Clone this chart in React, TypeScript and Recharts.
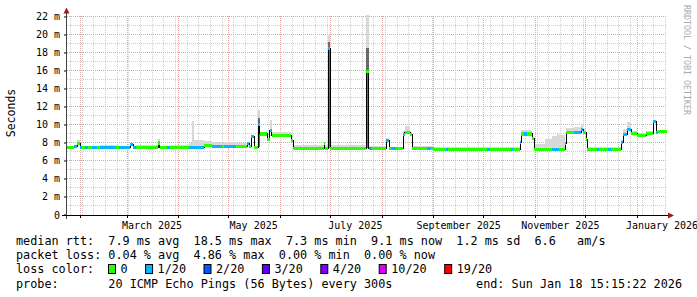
import React from "react";
import { ComposedChart, Area, Line, XAxis, YAxis, ReferenceLine } from "recharts";

const START = Date.UTC(2025, 0, 24);
const SPAN_DAYS = 360;
const dayOf = (s: string) => (Date.parse(s + "T00:00:00Z") - START) / 864e5;

// median rtt (start in days since 24 Jan 2025)
const segStart = [
  0, 4.2, 6.0, 7.8, 9.0, 10.8, 12.6, 15.0, 18.0, 19.8, 29.4, 31.2, 37.8, 39.6, 41.4,
  54.6, 55.5, 60.0, 61.8, 73.2, 75.0, 76.2, 82.2, 87.0, 93.0, 94.2, 101.4, 108.0,
  109.2, 110.4, 112.2, 114.6, 115.5, 120.0, 121.5, 122.7, 134.4, 135.6, 154.2, 154.7,
  156.6, 157.8, 179.4, 180.9, 183.0, 191.4, 193.2, 194.4, 197.4, 201.6, 202.5, 205.8,
  207.0, 216.0, 218.4, 220.2, 227.4, 228.6, 252.0, 253.8, 266.4, 267.6, 271.8, 272.4,
  274.2, 275.7, 279.0, 280.2, 286.8, 291.0, 294.0, 295.2, 298.8, 299.4, 304.2, 308.4,
  309.6, 311.4, 312.0, 318.0, 319.2, 324.6, 326.4, 332.4, 333.6, 336.0, 338.4, 342.0,
  347.4, 351.6, 353.4, 354.6,
];
const segMedian = [
  7.5, 7.6, 7.9, 7.5, 7.5, 7.5, 7.5, 7.5, 7.5, 7.5, 7.5, 7.5, 7.8, 7.5, 7.5,
  8.0, 7.5, 7.5, 7.5, 7.5, 7.5, 7.5, 7.7, 7.6, 7.6, 7.6, 7.6, 7.9,
  7.6, 8.7, 7.5, 10.1, 9.0, 8.4, 9.4, 8.85, 8.3, 7.4, 7.9, 7.4,
  18.5, 7.4, 15.9, 7.4, 7.4, 8.3, 7.4, 7.4, 7.4, 8.9, 9.2, 8.95,
  7.4, 7.4, 7.4, 7.3, 7.3, 7.3, 7.3, 7.3, 7.3, 7.3, 8.1, 9.0,
  9.0, 9.0, 8.5, 7.3, 7.3, 7.3, 7.3, 7.3, 7.9, 9.15, 9.15, 9.5,
  9.2, 8.4, 7.3, 7.3, 7.3, 7.3, 7.3, 8.1, 8.95, 9.5, 9.1, 8.85,
  9.1, 10.4, 9.2, 9.25,
];
// packet loss bin per segment: 0 = 0/20, 1 = 1/20
const segLoss = [
  0, 1, 0, 1, 0, 1, 0, 1, 0, 1, 0, 1, 1, 1, 0,
  0, 0, 1, 0, 1, 1, 1, 0, 1, 0, 1, 0, 1,
  0, 1, 0, 1, 0, 0, 1, 0, 0, 0, 0, 0,
  1, 0, 0, 1, 0, 1, 0, 1, 0, 1, 0, 0,
  0, 1, 0, 0, 1, 0, 1, 0, 1, 0, 1, 0,
  1, 0, 0, 0, 0, 1, 1, 0, 1, 0, 1, 1,
  0, 0, 0, 1, 0, 1, 0, 1, 1, 1, 0, 0,
  0, 1, 1, 0,
];
// top of the smoke (slowest pings) per segment
const segSmoke = [
  7.7, 7.8, 8.3, 7.7, 7.7, 7.7, 7.7, 7.7, 7.7, 7.8, 7.8, 7.7, 8.0, 7.7, 7.8,
  8.4, 7.7, 7.7, 7.8, 8.0, 10.4, 8.3, 8.2, 8.1, 8.0, 8.1, 8.0, 8.0,
  7.8, 8.9, 7.7, 11.7, 9.2, 8.6, 10.5, 9.2, 8.5, 7.75, 8.0, 7.75,
  20.0, 7.8, 22.2, 7.7, 7.7, 8.5, 7.6, 7.6, 7.6, 9.3, 9.9, 9.2,
  7.7, 7.7, 7.7, 7.6, 7.6, 7.5, 7.5, 7.5, 7.5, 7.5, 8.3, 9.45,
  9.45, 9.4, 8.7, 7.9, 8.4, 8.8, 9.0, 8.9, 8.1, 9.7, 9.8, 10.1,
  9.6, 8.6, 7.5, 7.5, 7.5, 7.5, 7.5, 8.3, 9.6, 10.3, 9.3, 9.1,
  9.3, 10.6, 9.35, 9.35,
];
// dense smoke around the three spikes
const spikeSeg = [31, 40, 42];
const spikeCoreBase = [7.6, 7.4, 7.4];
const spikeCoreTop = [10.8, 19.2, 18.6];

const monthStarts = [
  "2025-02-01", "2025-03-01", "2025-04-01", "2025-05-01", "2025-06-01", "2025-07-01",
  "2025-08-01", "2025-09-01", "2025-10-01", "2025-11-01", "2025-12-01", "2026-01-01",
];
const labelDates = ["2025-03-16", "2025-05-16", "2025-07-16", "2025-09-16", "2025-11-16", "2026-01-16"];
const labelText = ["March 2025", "May 2025", "July 2025", "September 2025", "November 2025", "January 2026"];
const yTicks = [0, 2, 4, 6, 8, 10, 12, 14, 16, 18, 20, 22];
const yMinor = [1, 3, 5, 7, 9, 11, 13, 15, 17, 19, 21];

const lossLabels = ["0", "1/20", "2/20", "3/20", "4/20", "10/20", "19/20"];
const lossColors = ["#26ff00", "#00b8ff", "#0059ff", "#5e00ff", "#7e00ff", "#dd00ff", "#ff0000"];

const rttLine = "median rtt:  7.9 ms avg  18.5 ms max  7.3 ms min  9.1 ms now  1.2 ms sd  6.6   am/s";
const lossLine = "packet loss: 0.04 % avg  4.86 % max  0.00 % min  0.00 % now";
const probeLine = "probe:       20 ICMP Echo Pings (56 Bytes) every 300s";
const endLine = "end: Sun Jan 18 15:15:22 2026";

const BAND = 0.17;
const MONO = "'DejaVu Sans Mono', monospace";
const MGRID = "#e4a4a4";
const GRID = "#cfcfcf";

const firstSunday = dayOf("2025-01-26");
const weekDays: number[] = [];
for (let d = firstSunday; d < SPAN_DAYS; d += 7) weekDays.push(d);
const monthDays = monthStarts.map(dayOf);
const labelDays = labelDates.map(dayOf);

// two rows per segment; loss bands of the other bin collapse to zero height
const rows: any[] = [];
segStart.forEach((s, i) => {
  const e = i + 1 < segStart.length ? segStart[i + 1] : SPAN_DAYS;
  const m = segMedian[i];
  const k = spikeSeg.indexOf(i);
  const on = [m - BAND, m + BAND];
  const off = [m, m];
  const r = {
    med: m,
    smoke: [m, segSmoke[i]],
    core: k >= 0 ? [spikeCoreBase[k], spikeCoreTop[k]] : [m, m],
    band0: segLoss[i] === 0 ? on : off,
    band1: segLoss[i] === 1 ? on : off,
  };
  rows.push({ day: s, ...r }, { day: e, ...r });
});

const XTick = ({ x, y, payload }: any) => {
  const i = labelDays.indexOf(payload.value);
  return (
    <text x={x} y={y + 14} textAnchor="middle" fontFamily={MONO} fontSize={10} fill="#000">
      {labelText[i]}
    </text>
  );
};

const YTick = ({ x, y, payload }: any) => (
  <text x={x} y={y + 3.5} textAnchor="end" fontFamily={MONO} fontSize={10} fill="#000">
    {payload.value === 0 ? "0" : `${payload.value} m`}
  </text>
);

const swatchX: number[] = [];
lossLabels.reduce((x, l) => {
  swatchX.push(x);
  return x + 30 + 7.1 * l.length;
}, 108);

const gridLine = { strokeDasharray: "1 1", shapeRendering: "crispEdges", zIndex: -100 } as any;
const areaBase = {
  type: "linear",
  stroke: "none",
  fillOpacity: 1,
  isAnimationActive: false,
  dot: false,
  activeDot: false,
  shapeRendering: "crispEdges",
} as any;

export default function App() {
  return (
    <div style={{ position: "fixed", left: 0, top: 0, width: 697, height: 297, background: "#fff" }}>
      <ComposedChart
        width={697}
        height={297}
        data={rows}
        margin={{ top: 15, right: 30, bottom: 62, left: 0 }}
      >
        {yMinor.map((v) => (
          <ReferenceLine key={"hm" + v} y={v} stroke={GRID} {...gridLine} />
        ))}
        {weekDays.map((d) => (
          <ReferenceLine key={"vm" + d} x={d} stroke={GRID} {...gridLine} />
        ))}
        {yTicks.slice(1).map((v) => (
          <ReferenceLine key={"hM" + v} y={v} stroke={MGRID} {...gridLine} />
        ))}
        {monthDays.map((d) => (
          <ReferenceLine key={"vM" + d} x={d} stroke={MGRID} {...gridLine} />
        ))}
        <XAxis
          dataKey="day"
          type="number"
          domain={[0, SPAN_DAYS]}
          ticks={labelDays}
          interval={0}
          tick={<XTick />}
          tickLine={false}
          tickSize={0}
          tickMargin={0}
          axisLine={false}
          height={20}
          allowDataOverflow
        />
        <YAxis
          type="number"
          domain={[0, 22.22]}
          ticks={yTicks}
          interval={0}
          tick={<YTick />}
          tickSize={3}
          tickMargin={4}
          tickLine={{ stroke: "#000" }}
          axisLine={false}
          width={67}
          allowDataOverflow
        />
        <Area {...areaBase} dataKey="smoke" fill="#d8d8d8" zIndex={100} />
        <Area {...areaBase} dataKey="core" fill="#6a6a6a" zIndex={110} />
        <Line dataKey="med" type="linear" stroke="#000" strokeWidth={1} dot={false} activeDot={false} isAnimationActive={false} shapeRendering="crispEdges" zIndex={400} />
        <Area {...areaBase} dataKey="band0" fill={lossColors[0]} zIndex={450} />
        <Area {...areaBase} dataKey="band1" fill={lossColors[1]} zIndex={450} />
        {monthDays.map((d) => (
          <ReferenceLine
            key={"t" + d}
            segment={[{ x: d, y: 0 }, { x: d, y: -0.33 }]}
            stroke="#000"
            ifOverflow="visible"
            shapeRendering="crispEdges"
          />
        ))}
      </ComposedChart>
      <svg
        width={697}
        height={297}
        style={{ position: "absolute", left: 0, top: 0, pointerEvents: "none" }}
      >
        <line x1={66.5} y1={10} x2={66.5} y2={219} stroke="#444" />
        <line x1={62} y1={215.5} x2={670} y2={215.5} stroke="#000" />
        <polygon points="63.5,13.5 69.5,13.5 66.5,7.5" fill="#9b1c1c" />
        <polygon points="668,212.5 674,215.5 668,218.5" fill="#9b1c1c" />
        <text
          transform="translate(15,113) rotate(-90)"
          textAnchor="middle"
          fontFamily={MONO}
          fontSize={11.5}
          fill="#000"
        >
          Seconds
        </text>
        <text
          transform="translate(684,5) rotate(90)"
          fontFamily={MONO}
          fontSize={8.3}
          fill="#aaa"
        >
          RRDTOOL / TOBI OETIKER
        </text>
        <g fontFamily={MONO} fontSize={11.8} fill="#000" style={{ whiteSpace: "pre" }}>
          <text x={16} y={245} xmlSpace="preserve">{rttLine}</text>
          <text x={16} y={259} xmlSpace="preserve">{lossLine}</text>
          <text x={16} y={273} xmlSpace="preserve">loss color:</text>
          {lossLabels.map((l, i) => (
            <g key={l}>
              <rect x={swatchX[i] + 0.5} y={264.5} width={7} height={9} fill={lossColors[i]} stroke="#000" />
              <text x={swatchX[i] + 12.5} y={273}>{l}</text>
            </g>
          ))}
          <text x={16} y={288} xmlSpace="preserve">{probeLine}</text>
          <text x={682} y={288} textAnchor="end">{endLine}</text>
        </g>
      </svg>
    </div>
  );
}
